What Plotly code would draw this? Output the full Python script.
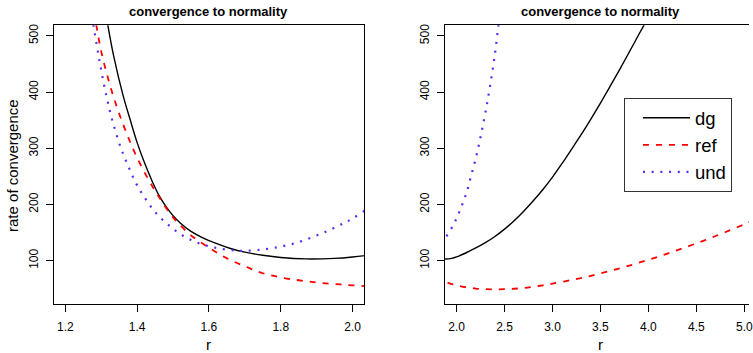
import plotly.graph_objects as go

# ---- data ----
dg_r = [1.318, 1.335, 1.36, 1.38, 1.40, 1.42, 1.44, 1.46, 1.48, 1.50, 1.52, 1.55, 1.58, 1.62,
        1.66, 1.70, 1.75, 1.80, 1.87, 1.95, 2.00, 2.10, 2.20, 2.30, 2.40, 2.50, 2.60, 2.70,
        2.80, 2.90, 3.00, 3.10, 3.20, 3.30, 3.40, 3.50, 3.60, 3.70, 3.80, 3.90, 3.957]
dg_v = [520, 463, 396, 352, 310, 275, 244, 217, 196.5, 180, 167, 152, 141.5, 130.5,
        121.5, 115, 109.5, 105.5, 103, 104, 106.5, 114, 122.5, 132, 143, 156, 171, 188,
        206.5, 226.5, 248.5, 273, 298.5, 324.5, 352, 380.5, 410, 440, 471, 502.5, 520]

ref_r = [1.286, 1.30, 1.32, 1.34, 1.36, 1.38, 1.40, 1.43, 1.46, 1.50, 1.55, 1.60, 1.65, 1.70,
         1.75, 1.80, 1.85, 1.90, 1.95, 2.00, 2.10, 2.20, 2.30, 2.40, 2.50, 2.60, 2.70, 2.80,
         2.90, 3.00, 3.20, 3.40, 3.60, 3.80, 4.00, 4.20, 4.40, 4.60, 4.80, 5.00, 5.06]
ref_v = [520, 472, 422, 380, 344, 312, 283, 246, 214, 177, 145, 123, 104, 90,
         77.5, 70, 65, 61, 58.3, 56, 52.5, 50.3, 49.2, 48.8, 49.1, 49.9, 51.3, 53.5,
         56, 59, 65.5, 73, 81.5, 91, 101.5, 112.5, 124.5, 137, 150.5, 164.5, 169]

und_r = [1.278, 1.295, 1.314, 1.332, 1.355, 1.374, 1.395, 1.42, 1.45, 1.486, 1.526, 1.572,
         1.621, 1.671, 1.70, 1.746, 1.796, 1.845, 1.893, 1.938, 1.976, 2.0, 2.05, 2.10,
         2.15, 2.20, 2.25, 2.30, 2.35, 2.40, 2.437]
und_v = [520, 456, 394, 347, 300, 270, 240, 213, 186.5, 164, 145, 131,
         122.5, 118, 117.5, 119.6, 124.3, 132, 143, 155, 167, 175, 196, 219,
         250, 282, 320, 363, 412, 468, 520]

series_names = ["dg", "ref", "und"]
left_xticks = [1.2, 1.4, 1.6, 1.8, 2.0]
right_xticks = [2.0, 2.5, 3.0, 3.5, 4.0, 4.5, 5.0]
yticks = [100, 200, 300, 400, 500]
panel_title = "convergence to normality"
x_title = "r"
y_title = "rate of convergence"

# ---- styling ----
W, H = 753, 353
FONT = "Liberation Sans, Arial, Helvetica, sans-serif"
styles = [
    dict(color="black", width=1.4, dash="solid"),
    dict(color="#ff0000", width=1.8, dash="6px,7px"),
    dict(color="#5a28f5", width=2.2, dash="2px,6.7px"),
]
data = [(dg_r, dg_v), (ref_r, ref_v), (und_r, und_v)]

fig = go.Figure()
for (xs, ys), name, st in zip(data, series_names, styles):
    fig.add_trace(go.Scatter(x=xs, y=ys, mode="lines", name=name,
                             line=dict(shape="spline", smoothing=1.0, **st),
                             xaxis="x", yaxis="y", showlegend=False))
for (xs, ys), name, st in zip(data, series_names, styles):
    fig.add_trace(go.Scatter(x=xs, y=ys, mode="lines", name=name,
                             line=dict(shape="spline", smoothing=1.0, **st),
                             xaxis="x2", yaxis="y2", showlegend=True))

ytop = 1 - 24.3 / H
ybot = 1 - 304 / H
axcommon = dict(showline=True, linecolor="black", linewidth=1, ticks="outside", ticklen=7,
                tickwidth=1, tickcolor="black", showgrid=False, zeroline=False,
                ticklabeloverflow="allow",
                tickfont=dict(family=FONT, size=12, color="black"))

fig.update_layout(
    width=W, height=H, autosize=False,
    margin=dict(l=0, r=0, t=0, b=0),
    paper_bgcolor="white", plot_bgcolor="white",
    font=dict(family=FONT, color="black"),
    xaxis=dict(domain=[54 / W, 366 / W], range=[1.1676, 2.032], tickvals=left_xticks,
               tickformat=".1f", mirror=True, anchor="y", ticklabelstandoff=4, **axcommon),
    yaxis=dict(domain=[ybot, ytop], range=[22.5, 519], tickvals=yticks, tickangle=-90,
               mirror=True, anchor="x", ticklabelstandoff=3, **axcommon),
    xaxis2=dict(domain=[447.5 / W, 1.0], range=[1.8805, 5.049], tickvals=right_xticks,
                tickformat=".1f", mirror=True, anchor="y2", ticklabelstandoff=4, **axcommon),
    yaxis2=dict(domain=[ybot, ytop], range=[22.5, 519], tickvals=yticks, tickangle=-90,
                mirror=False, anchor="x2", ticklabelstandoff=3, **axcommon),
    legend=dict(x=627.3 / W, y=1 - 97.5 / H, xanchor="left", yanchor="top",
                bordercolor="#333333", borderwidth=1, bgcolor="white",
                itemwidth=47, indentation=13,
                font=dict(family=FONT, size=18.5, color="black")),
    annotations=[
        dict(text="<b>%s</b>" % panel_title, x=210 / W, y=1 - 11 / H, xref="paper", yref="paper",
             xanchor="center", yanchor="middle", showarrow=False, font=dict(size=13, family=FONT)),
        dict(text="<b>%s</b>" % panel_title, x=603.5 / W, y=1 - 11 / H, xref="paper", yref="paper",
             xanchor="center", yanchor="middle", showarrow=False, font=dict(size=13, family=FONT)),
        dict(text=x_title, x=210 / W, y=1 - 344 / H, xref="paper", yref="paper",
             xanchor="center", yanchor="middle", showarrow=False, font=dict(size=15, family=FONT)),
        dict(text=x_title, x=603.5 / W, y=1 - 344 / H, xref="paper", yref="paper",
             xanchor="center", yanchor="middle", showarrow=False, font=dict(size=15, family=FONT)),
        dict(text=y_title, x=12.5 / W, y=1 - 165 / H, xref="paper", yref="paper", textangle=-90,
             xanchor="center", yanchor="middle", showarrow=False, font=dict(size=15, family=FONT)),
    ],
)

fig.write_html("out.html", config={"displayModeBar": False},
               post_script="document.body.style.margin='0';document.body.style.overflow='hidden';")
